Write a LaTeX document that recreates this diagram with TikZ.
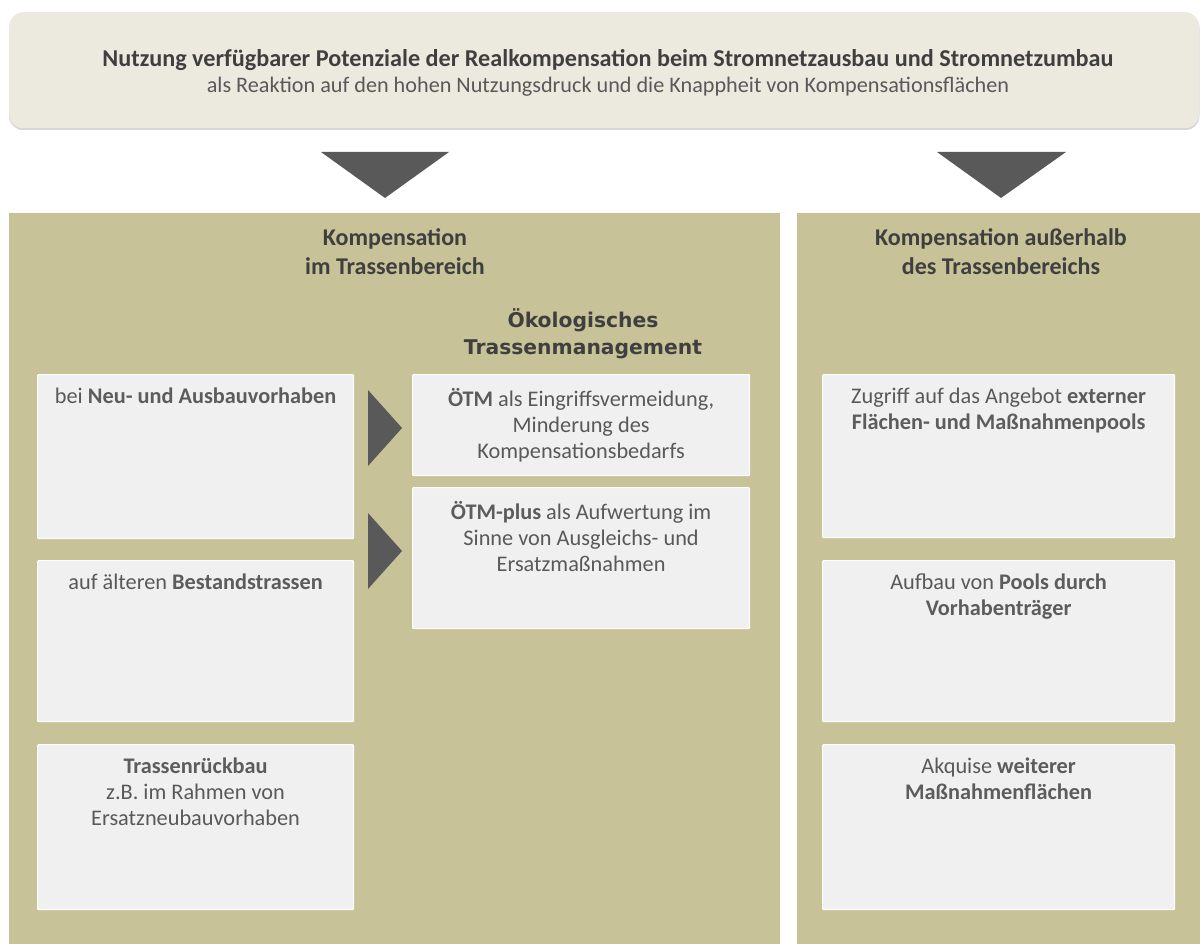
\documentclass[tikz,border=0pt]{standalone}
\usepackage{fontspec}
\setmainfont{Carlito}
\newfontfamily\oekofont{DejaVu Sans}
\definecolor{panelfill}{HTML}{C8C298}
\definecolor{boxfill}{HTML}{F0F0F0}
\definecolor{topfill}{HTML}{ECEADF}
\definecolor{tipgray}{HTML}{595959}
\definecolor{txtgray}{HTML}{595959}
\definecolor{txtdark}{HTML}{3F3F3F}
\tikzset{
  panel/.style={fill=panelfill,draw=none,anchor=north west,inner sep=0pt},
  infobox/.style={fill=boxfill,draw=white,line width=1.2pt,anchor=north west,inner sep=0pt,rounded corners=1pt},
  infotext/.style={anchor=north,inner sep=0pt,align=center,text=txtgray,font=\fontsize{22.3}{26}\selectfont},
  headtext/.style={anchor=north,inner sep=0pt,align=center,text=txtdark,font=\bfseries\fontsize{24}{29}\selectfont},
  tip/.style={fill=tipgray,draw=none}
}
\newcommand{\bx}[1]{\textbf{\color{txtdark!85}#1}}
\begin{document}
\begin{tikzpicture}[x=1pt,y=-1pt]
  \useasboundingbox (0,0) rectangle (1200,944);
  % top banner
  \fill[black!16,rounded corners=14pt] (9,14) rectangle (1199.5,130);
  \node[fill=topfill,rounded corners=14pt,anchor=north west,inner sep=0pt,
        minimum width=1190pt,minimum height=116pt] (banner) at (9,12) {};
  \node[inner sep=0pt,text=txtdark,font=\bfseries\fontsize{24.2}{29}\selectfont] (title) at (608,60)
    {Nutzung verfügbarer Potenziale der Realkompensation beim Stromnetzausbau und Stromnetzumbau};
  \node[inner sep=0pt,text=txtgray,font=\fontsize{22.2}{27}\selectfont] (subtitle) at (608,87)
    {als Reaktion auf den hohen Nutzungsdruck und die Knappheit von Kompensationsflächen};
  % panels
  \node[panel,minimum width=771pt,minimum height=731pt] (inner) at (9,213) {};
  \node[panel,minimum width=403pt,minimum height=731pt] (outer) at (797,213) {};
  % down tips
  \fill[tip] (321,152) -- (449,152) -- (385,198) -- cycle;
  \fill[tip] (937,152) -- (1066,152) -- (1001,198) -- cycle;
  % panel heads
  \node[headtext] (innerhead) at (395,228) {Kompensation\\im Trassenbereich};
  \node[headtext] (outerhead) at (1001,228) {Kompensation außerhalb\\des Trassenbereichs};
  \node[anchor=north,inner sep=0pt,align=center,text=txtdark,
        font=\oekofont\bfseries\fontsize{20.3}{27}\selectfont] (oekohead) at (583,308)
    {Ökologisches\\Trassenmanagement};
  % left column
  \node[infobox,minimum width=316pt,minimum height=164pt] (neu) at (37,374) {};
  \node[infobox,minimum width=316pt,minimum height=161pt] (bestand) at (37,560) {};
  \node[infobox,minimum width=316pt,minimum height=165pt] (rueckbau) at (37,744) {};
  \node[infotext] at ([yshift=-14pt]neu.north) {bei \bx{Neu- und Ausbauvorhaben}};
  \node[infotext] at ([yshift=-14pt]bestand.north) {auf älteren \bx{Bestandstrassen}};
  \node[infotext] at ([yshift=-14pt]rueckbau.north) {\bx{Trassenrückbau}\\z.B. im Rahmen von\\Ersatzneubauvorhaben};
  % middle column
  \node[infobox,minimum width=337pt,minimum height=101pt] (oetm) at (412,374) {};
  \node[infobox,minimum width=337pt,minimum height=141pt] (oetmplus) at (412,487) {};
  \node[infotext] at ([yshift=-14pt]oetm.north) {\bx{ÖTM} als Eingriffsvermeidung,\\Minderung des\\Kompensationsbedarfs};
  \node[infotext] at ([yshift=-14pt]oetmplus.north) {\bx{ÖTM-plus} als Aufwertung im\\Sinne von Ausgleichs- und\\Ersatzmaßnahmen};
  % side tips
  \fill[tip] (368,390) -- (402,428) -- (368,466) -- cycle;
  \fill[tip] (368,513) -- (402,551) -- (368,589) -- cycle;
  % right column
  \node[infobox,minimum width=352pt,minimum height=163pt] (pool) at (822,374) {};
  \node[infobox,minimum width=352pt,minimum height=161pt] (vorhaben) at (822,560) {};
  \node[infobox,minimum width=352pt,minimum height=165pt] (akquise) at (822,744) {};
  \node[infotext] at ([yshift=-14pt]pool.north) {Zugriff auf das Angebot \bx{externer}\\\bx{Flächen- und Maßnahmenpools}};
  \node[infotext] at ([yshift=-14pt]vorhaben.north) {Aufbau von \bx{Pools durch}\\\bx{Vorhabenträger}};
  \node[infotext] at ([yshift=-14pt]akquise.north) {Akquise \bx{weiterer}\\\bx{Maßnahmenflächen}};
\end{tikzpicture}
\end{document}
